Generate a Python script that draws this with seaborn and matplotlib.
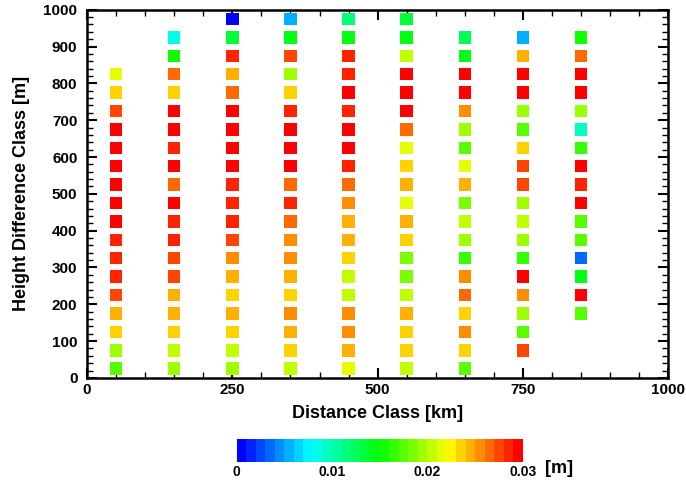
import numpy as np
import pandas as pd
import matplotlib
matplotlib.use("Agg")
import matplotlib.pyplot as plt
import seaborn as sns
from matplotlib.colors import ListedColormap, Normalize, hsv_to_rgb
from matplotlib.ticker import MultipleLocator

sns.set_style("white")
plt.rcParams['font.family'] = ['Liberation Sans', 'DejaVu Sans']
plt.rcParams['font.weight'] = 'bold'
plt.rcParams.update({'text.color': 'black', 'axes.labelcolor': 'black',
                     'xtick.color': 'black', 'ytick.color': 'black'})

# distance classes (km) and the lowest height class (m) present in each column
distance = [50, 150, 250, 350, 450, 550, 650, 750, 850]
start_height = [25, 25, 25, 25, 25, 25, 25, 75, 175]

# values per column, listed from the lowest height class upward (m)
d50 = [0.017, 0.0195, 0.023, 0.024, 0.027, 0.028, 0.028, 0.028, 0.030, 0.030,
       0.030, 0.029, 0.030, 0.030, 0.027, 0.023, 0.0215]
d150 = [0.0195, 0.0206, 0.023, 0.024, 0.024, 0.027, 0.027, 0.028, 0.028, 0.029,
        0.026, 0.030, 0.028, 0.030, 0.030, 0.023, 0.026, 0.015, 0.0085]
d250 = [0.019, 0.0206, 0.023, 0.024, 0.023, 0.024, 0.025, 0.027, 0.028, 0.028,
        0.028, 0.029, 0.029, 0.030, 0.030, 0.026, 0.024, 0.028, 0.013, 0.0]
d350 = [0.0206, 0.023, 0.024, 0.025, 0.023, 0.024, 0.025, 0.025, 0.026, 0.028,
        0.026, 0.029, 0.030, 0.030, 0.028, 0.023, 0.0195, 0.027, 0.014, 0.005]
d450 = [0.0215, 0.024, 0.025, 0.025, 0.0206, 0.0206, 0.023, 0.024, 0.024, 0.025,
        0.026, 0.028, 0.030, 0.029, 0.028, 0.030, 0.028, 0.028, 0.0145, 0.0115]
d550 = [0.020, 0.023, 0.023, 0.024, 0.0206, 0.0185, 0.0185, 0.023, 0.024, 0.0215,
        0.024, 0.023, 0.0215, 0.026, 0.029, 0.030, 0.030, 0.0206, 0.0145, 0.013]
d650 = [0.0175, 0.023, 0.025, 0.023, 0.026, 0.025, 0.016, 0.0195, 0.0206, 0.0185,
        0.024, 0.0215, 0.0175, 0.0195, 0.025, 0.030, 0.030, 0.014, 0.0125]
d750 = [0.027, 0.0175, 0.0195, 0.025, 0.030, 0.016, 0.0195, 0.0206, 0.0195,
        0.027, 0.027, 0.023, 0.0175, 0.0195, 0.030, 0.030, 0.024, 0.005]
d850 = [0.0175, 0.030, 0.014, 0.00375, 0.0175, 0.0175, 0.030, 0.028, 0.030,
        0.0165, 0.009, 0.019, 0.030, 0.030, 0.026, 0.015]

columns = [d50, d150, d250, d350, d450, d550, d650, d750, d850]

rows = []
for x, h0, vals in zip(distance, start_height, columns):
    for i, v in enumerate(vals):
        rows.append({'Distance': x, 'Height': h0 + 50 * i, 'Value': v})
df = pd.DataFrame(rows)

# 30 step rainbow from blue to red
hues = np.linspace(2 / 3, 0, 30)
cmap = ListedColormap(hsv_to_rgb(np.column_stack([hues, np.ones(30), np.ones(30)])))
norm = Normalize(0, 0.03)

fig = plt.figure(figsize=(6.86, 4.87), dpi=100)
ax = fig.add_axes([0.127, 0.224, 0.847, 0.756])

sns.scatterplot(data=df, x='Distance', y='Height', hue='Value', palette=cmap,
                hue_norm=norm, marker='s', s=80, linewidth=0, legend=False, ax=ax)

ax.set_xlim(0, 1000)
ax.set_ylim(0, 1000)
ax.xaxis.set_major_locator(MultipleLocator(250))
ax.xaxis.set_minor_locator(MultipleLocator(50))
ax.yaxis.set_major_locator(MultipleLocator(100))
ax.yaxis.set_minor_locator(MultipleLocator(20))
ax.tick_params(which='both', direction='in', top=True, right=True, bottom=True, left=True,
               labelsize=11, colors='black')
ax.tick_params(which='major', length=7, width=1.5)
ax.tick_params(which='minor', length=4, width=1)
ax.tick_params(axis='y', which='major', pad=7)
for lab in ax.get_xticklabels() + ax.get_yticklabels():
    lab.set_fontweight('bold')
for sp in ax.spines.values():
    sp.set_linewidth(1.8)
    sp.set_color('black')

ax.set_xlabel('Distance Class [km]', fontsize=13, fontweight='bold', labelpad=6)
ax.set_ylabel('Height Difference Class [m]', fontsize=13, fontweight='bold', labelpad=10)

cax = fig.add_axes([0.345, 0.051, 0.417, 0.047])
sm = plt.cm.ScalarMappable(cmap=cmap, norm=norm)
cb = fig.colorbar(sm, cax=cax, orientation='horizontal', ticks=[0, 0.01, 0.02, 0.03])
cb.outline.set_visible(False)
cb.ax.set_xticklabels(['0', '0.01', '0.02', '0.03'])
cb.ax.tick_params(length=0, labelsize=10, pad=2)
for lab in cb.ax.get_xticklabels():
    lab.set_fontweight('bold')
fig.text(0.795, 0.038, '[m]', fontsize=13, fontweight='bold', ha='left', va='center')

fig.savefig('out.png', dpi=100)
